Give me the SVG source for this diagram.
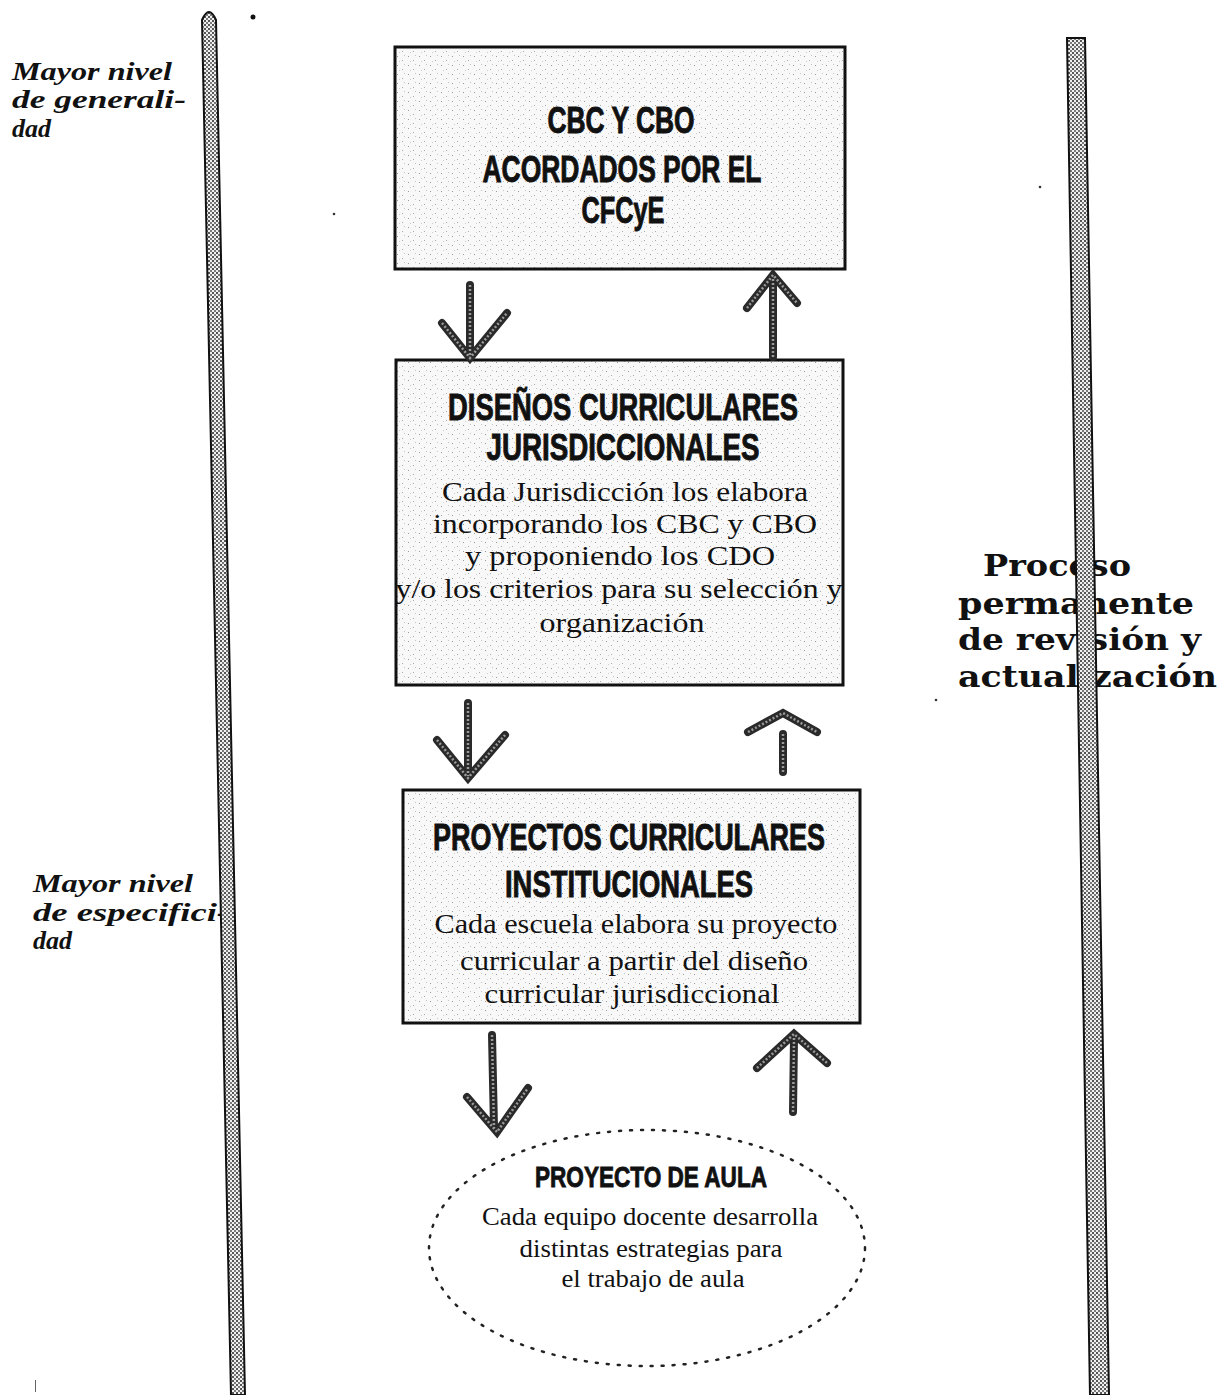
<svg xmlns="http://www.w3.org/2000/svg" width="1229" height="1395" viewBox="0 0 1229 1395">
<defs>
<pattern id="speck" width="11" height="9" patternUnits="userSpaceOnUse">
<rect width="11" height="9" fill="#f8f8f8"/>
<rect x="1" y="2" width="1" height="1" fill="#999"/>
<rect x="6" y="6" width="1" height="1" fill="#aaa"/>
<rect x="8" y="1" width="1" height="1" fill="#c4c4c4"/>
<rect x="3" y="7" width="1" height="1" fill="#cccccc"/>
</pattern>
<pattern id="stip" width="4" height="4" patternUnits="userSpaceOnUse">
<rect width="4" height="4" fill="#f0f0f0"/>
<rect width="2" height="2" fill="#555"/>
<rect x="2" y="2" width="2" height="2" fill="#7a7a7a"/>
</pattern>
<style>
.box{fill:url(#speck);stroke:#111;stroke-width:3}
.title{font-family:"Liberation Sans Narrow","Liberation Sans",Arial,sans-serif;font-weight:bold;fill:#111;stroke:#111;stroke-width:0.9;text-anchor:middle}
.body{font-family:"Liberation Serif","Times New Roman",serif;fill:#111;text-anchor:middle}
.side{font-family:"Liberation Serif","Times New Roman",serif;font-style:italic;font-weight:bold;font-size:26px;fill:#111}
.proc{font-family:"DejaVu Serif","Liberation Serif",serif;font-weight:bold;font-size:30px;fill:#111}
.arO{fill:none;stroke:#2a2a2a;stroke-width:8;stroke-linecap:round;stroke-linejoin:miter}
.arI{fill:none;stroke:#9a9a9a;stroke-width:2.5;stroke-dasharray:2 2;stroke-linecap:butt}
.bar{fill:url(#stip);stroke:#111;stroke-width:2}
</style>
</defs>
<rect width="1229" height="1395" fill="#fff"/>

<g id="label-generalidad">
<text class="side" x="12" y="80" textLength="160" lengthAdjust="spacingAndGlyphs">Mayor nivel</text>
<text class="side" x="12" y="108" textLength="174" lengthAdjust="spacingAndGlyphs">de  generali-</text>
<text class="side" x="12" y="137">dad</text>
</g>
<g id="label-especificidad">
<text class="side" x="33" y="892" textLength="160" lengthAdjust="spacingAndGlyphs">Mayor nivel</text>
<text class="side" x="33" y="921" textLength="196" lengthAdjust="spacingAndGlyphs">de  especifici-</text>
<text class="side" x="33" y="949">dad</text>
</g>
<g id="label-proceso">
<text class="proc" x="983" y="576" textLength="148" lengthAdjust="spacingAndGlyphs">Proceso</text>
<text class="proc" x="958" y="614" textLength="236" lengthAdjust="spacingAndGlyphs">permanente</text>
<text class="proc" x="958" y="650" textLength="243" lengthAdjust="spacingAndGlyphs">de revisión y</text>
<text class="proc" x="958" y="687" textLength="259" lengthAdjust="spacingAndGlyphs">actualización</text>
</g>

<g id="bars">
<path class="bar" d="M202,20 Q209,4 216,20 L245,1395 L231,1395 Z"/>
<path class="bar" d="M1067,38 L1085,38 L1109,1395 L1090,1395 Z"/>
</g>

<g id="node-cbc">
<rect class="box" x="395" y="47" width="450" height="222"/>
<text class="title" x="621" y="133" font-size="37" textLength="147" lengthAdjust="spacingAndGlyphs">CBC Y CBO</text>
<text class="title" x="622" y="182" font-size="37" textLength="279" lengthAdjust="spacingAndGlyphs">ACORDADOS POR EL</text>
<text class="title" x="623" y="223" font-size="37" textLength="83" lengthAdjust="spacingAndGlyphs">CFCyE</text>
</g>

<g id="node-disenos">
<rect class="box" x="396" y="360" width="447" height="325"/>
<text class="title" x="623" y="420" font-size="37" textLength="350" lengthAdjust="spacingAndGlyphs">DISEÑOS CURRICULARES</text>
<text class="title" x="623" y="460" font-size="37" textLength="273" lengthAdjust="spacingAndGlyphs">JURISDICCIONALES</text>
<text class="body" x="625" y="501" font-size="28" textLength="366" lengthAdjust="spacingAndGlyphs">Cada Jurisdicción los elabora</text>
<text class="body" x="625" y="533" font-size="28" textLength="384" lengthAdjust="spacingAndGlyphs">incorporando los CBC y CBO</text>
<text class="body" x="620" y="565" font-size="28" textLength="310" lengthAdjust="spacingAndGlyphs">y proponiendo los CDO</text>
<text class="body" x="619" y="598" font-size="28" textLength="447" lengthAdjust="spacingAndGlyphs">y/o los criterios para su selección y</text>
<text class="body" x="622" y="632" font-size="28" textLength="165" lengthAdjust="spacingAndGlyphs">organización</text>
</g>

<g id="node-proyectos">
<rect class="box" x="403" y="790" width="457" height="233"/>
<text class="title" x="629" y="850" font-size="37" textLength="392" lengthAdjust="spacingAndGlyphs">PROYECTOS CURRICULARES</text>
<text class="title" x="629" y="897" font-size="37" textLength="248" lengthAdjust="spacingAndGlyphs">INSTITUCIONALES</text>
<text class="body" x="636" y="933" font-size="28" textLength="403" lengthAdjust="spacingAndGlyphs">Cada escuela elabora su proyecto</text>
<text class="body" x="634" y="970" font-size="28" textLength="348" lengthAdjust="spacingAndGlyphs">curricular a partir del diseño</text>
<text class="body" x="632" y="1003" font-size="28" textLength="295" lengthAdjust="spacingAndGlyphs">curricular jurisdiccional</text>
</g>

<g id="node-aula">
<ellipse cx="647" cy="1248" rx="218" ry="118" fill="none" stroke="#222" stroke-width="2.5" stroke-dasharray="2 9" stroke-linecap="round"/>
<text class="title" x="651" y="1187" font-size="29" textLength="232" lengthAdjust="spacingAndGlyphs">PROYECTO DE AULA</text>
<text class="body" x="650" y="1225" font-size="25" fill="#222" textLength="336" lengthAdjust="spacingAndGlyphs">Cada equipo docente desarrolla</text>
<text class="body" x="651" y="1257" font-size="25" fill="#222" textLength="263" lengthAdjust="spacingAndGlyphs">distintas estrategias para</text>
<text class="body" x="653" y="1287" font-size="25" fill="#222" textLength="183" lengthAdjust="spacingAndGlyphs">el trabajo de aula</text>
</g>

<g id="connectors">
<path class="arO" d="M470,285 L470,356 M442,323 L470,358 L507,313"/>
<path class="arI" d="M470,285 L470,356 M442,323 L470,358 L507,313"/>
<path class="arO" d="M773,357 L773,278 M747,308 L773,275 L797,303"/>
<path class="arI" d="M773,357 L773,278 M747,308 L773,275 L797,303"/>
<path class="arO" d="M468,703 L468,776 M437,740 L468,778 L505,735"/>
<path class="arI" d="M468,703 L468,776 M437,740 L468,778 L505,735"/>
<path class="arO" d="M783,772 L783,734 M748,732 L783,713 L817,732"/>
<path class="arI" d="M783,772 L783,734 M748,732 L783,713 L817,732"/>
<path class="arO" d="M492,1035 L494,1128 M467,1097 L497,1132 L528,1088"/>
<path class="arI" d="M492,1035 L494,1128 M467,1097 L497,1132 L528,1088"/>
<path class="arO" d="M793,1112 L794,1038 M757,1068 L794,1034 L827,1063"/>
<path class="arI" d="M793,1112 L794,1038 M757,1068 L794,1034 L827,1063"/>
</g>

<g id="specks">
<circle cx="253" cy="17" r="2.5" fill="#111"/>
<circle cx="1040" cy="187" r="1.3" fill="#333"/>
<circle cx="334" cy="214" r="1.3" fill="#333"/>
<circle cx="936" cy="700" r="1.3" fill="#333"/>
<rect x="35" y="1380" width="1" height="12" fill="#666"/>
</g>
</svg>
